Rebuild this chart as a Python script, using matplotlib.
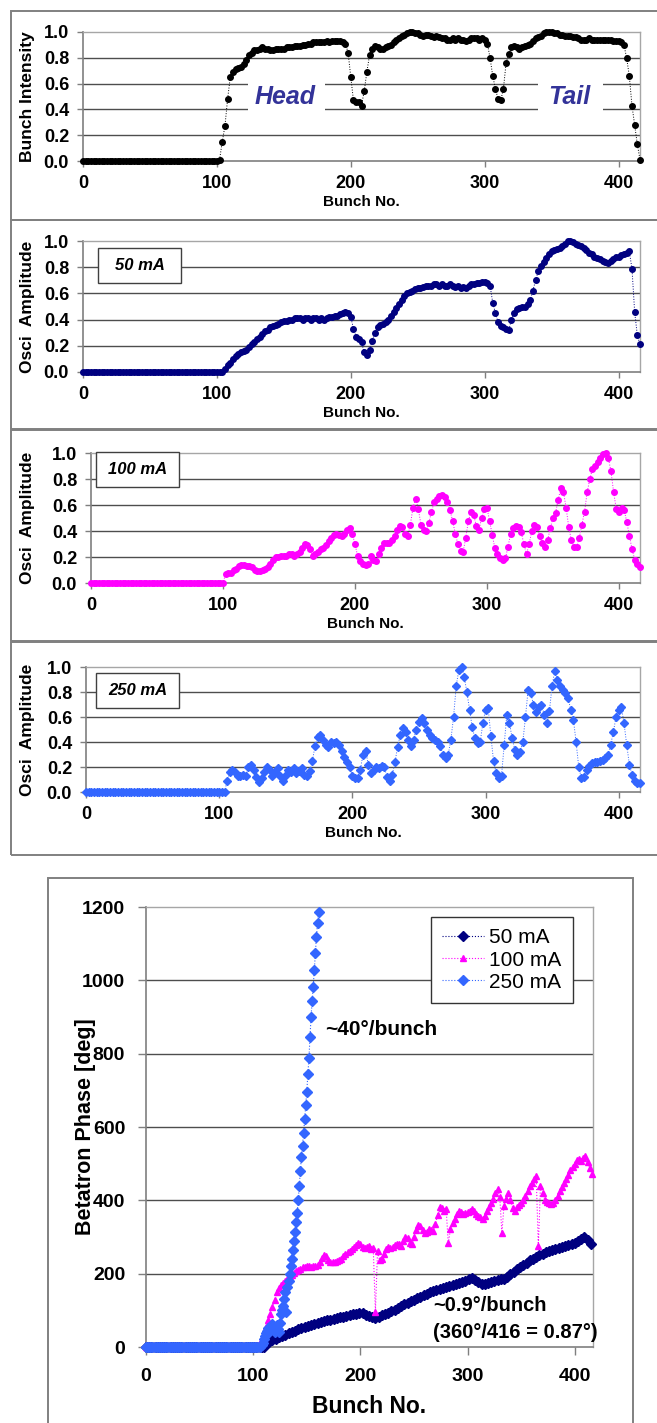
import matplotlib
matplotlib.use("Agg")
import matplotlib.pyplot as plt
from matplotlib.patches import Rectangle
import numpy as np

plt.rcParams['font.family'] = ['Liberation Sans', 'DejaVu Sans']

W, H = 657, 1423

# ---------------- data ----------------
# bunch intensity, every 2nd bunch from 102 (zeros before)
int_start = 102
intensity = [0.01, 0.15, 0.27, 0.48, 0.65, 0.69, 0.71, 0.72, 0.73, 0.75,
             0.78, 0.82, 0.84, 0.86, 0.86, 0.87, 0.88, 0.87, 0.87, 0.86,
             0.86, 0.87, 0.87, 0.87, 0.87, 0.88, 0.88, 0.88, 0.89, 0.89,
             0.89, 0.90, 0.90, 0.91, 0.91, 0.92, 0.92, 0.92, 0.92, 0.92,
             0.93, 0.92, 0.93, 0.93, 0.93, 0.93, 0.92, 0.91, 0.84, 0.65,
             0.47, 0.46, 0.46, 0.43, 0.54, 0.69, 0.82, 0.87, 0.89, 0.88,
             0.87, 0.87, 0.88, 0.89, 0.90, 0.92, 0.94, 0.95, 0.97, 0.98,
             0.99, 1.00, 1.00, 0.99, 0.99, 0.98, 0.97, 0.98, 0.98, 0.97,
             0.96, 0.97, 0.96, 0.95, 0.95, 0.94, 0.94, 0.95, 0.94, 0.95,
             0.94, 0.94, 0.93, 0.94, 0.95, 0.95, 0.95, 0.94, 0.95, 0.94,
             0.91, 0.80, 0.66, 0.56, 0.48, 0.47, 0.56, 0.76, 0.83, 0.88,
             0.89, 0.88, 0.87, 0.88, 0.89, 0.90, 0.91, 0.93, 0.95, 0.96,
             0.97, 0.99, 1.00, 1.00, 1.00, 0.99, 0.99, 0.98, 0.98, 0.97,
             0.97, 0.97, 0.96, 0.96, 0.95, 0.94, 0.94, 0.94, 0.95, 0.94,
             0.94, 0.94, 0.94, 0.94, 0.94, 0.94, 0.94, 0.93, 0.93, 0.93,
             0.92, 0.90, 0.80, 0.66, 0.43, 0.28, 0.13, 0.01]

# oscillation amplitude, every 2nd bunch
amp50_start = 106
amp50 = [0.02, 0.05, 0.07, 0.10, 0.12, 0.14, 0.15, 0.16, 0.17, 0.19,
         0.21, 0.23, 0.25, 0.27, 0.29, 0.31, 0.32, 0.34, 0.35, 0.36,
         0.37, 0.38, 0.39, 0.39, 0.40, 0.40, 0.41, 0.41, 0.41, 0.40,
         0.41, 0.41, 0.40, 0.41, 0.41, 0.40, 0.41, 0.40, 0.41, 0.42,
         0.42, 0.43, 0.43, 0.44, 0.45, 0.46, 0.45, 0.42, 0.33, 0.27,
         0.25, 0.23, 0.15, 0.13, 0.17, 0.24, 0.30, 0.34, 0.36, 0.37,
         0.38, 0.40, 0.43, 0.46, 0.49, 0.52, 0.55, 0.58, 0.60, 0.61,
         0.62, 0.63, 0.64, 0.64, 0.65, 0.66, 0.66, 0.66, 0.67, 0.67,
         0.66, 0.67, 0.66, 0.66, 0.67, 0.66, 0.65, 0.66, 0.64, 0.65,
         0.64, 0.66, 0.67, 0.67, 0.68, 0.68, 0.69, 0.69, 0.68, 0.66,
         0.53, 0.45, 0.38, 0.35, 0.34, 0.33, 0.32, 0.40, 0.45, 0.48,
         0.49, 0.50, 0.50, 0.52, 0.55, 0.62, 0.70, 0.77, 0.81, 0.84,
         0.87, 0.90, 0.92, 0.93, 0.94, 0.95, 0.96, 0.98, 1.00, 1.00,
         0.99, 0.98, 0.97, 0.96, 0.95, 0.93, 0.91, 0.90, 0.88, 0.87,
         0.86, 0.85, 0.84, 0.83, 0.85, 0.86, 0.88, 0.88, 0.89, 0.90,
         0.91, 0.92, 0.79, 0.46, 0.28, 0.21]

amp100_start = 102
amp100 = [0.07, 0.08, 0.08, 0.10, 0.11, 0.13, 0.14, 0.14, 0.13, 0.13,
          0.12, 0.10, 0.09, 0.09, 0.10, 0.11, 0.12, 0.15, 0.18, 0.20,
          0.20, 0.21, 0.21, 0.21, 0.22, 0.22, 0.21, 0.22, 0.24, 0.27,
          0.30, 0.29, 0.26, 0.21, 0.22, 0.24, 0.26, 0.27, 0.29, 0.32,
          0.35, 0.37, 0.38, 0.37, 0.36, 0.38, 0.41, 0.42, 0.38, 0.30,
          0.21, 0.17, 0.15, 0.14, 0.15, 0.21, 0.18, 0.17, 0.22, 0.27,
          0.31, 0.31, 0.31, 0.33, 0.36, 0.41, 0.44, 0.43, 0.38, 0.36,
          0.45, 0.58, 0.65, 0.57, 0.45, 0.41, 0.40, 0.46, 0.55, 0.62,
          0.65, 0.67, 0.68, 0.66, 0.62, 0.56, 0.48, 0.38, 0.30, 0.25,
          0.24, 0.35, 0.48, 0.55, 0.52, 0.44, 0.41, 0.50, 0.57, 0.58,
          0.48, 0.37, 0.27, 0.22, 0.19, 0.18, 0.19, 0.28, 0.38, 0.42,
          0.44, 0.43, 0.39, 0.30, 0.22, 0.30, 0.40, 0.45, 0.43, 0.36,
          0.31, 0.28, 0.33, 0.42, 0.50, 0.54, 0.64, 0.73, 0.70, 0.58,
          0.43, 0.33, 0.28, 0.28, 0.35, 0.45, 0.55, 0.70, 0.80, 0.88,
          0.90, 0.93, 0.96, 0.99, 1.00, 0.96, 0.86, 0.70, 0.57, 0.55,
          0.58, 0.56, 0.47, 0.36, 0.26, 0.18, 0.15, 0.12]

amp250_start = 106
amp250 = [0.09, 0.16, 0.18, 0.16, 0.13, 0.13, 0.14, 0.13, 0.20, 0.22,
          0.18, 0.12, 0.08, 0.11, 0.16, 0.20, 0.18, 0.13, 0.16, 0.19,
          0.13, 0.09, 0.14, 0.18, 0.16, 0.19, 0.15, 0.17, 0.19, 0.14,
          0.13, 0.17, 0.25, 0.37, 0.44, 0.46, 0.42, 0.38, 0.36, 0.40,
          0.39, 0.40, 0.38, 0.33, 0.28, 0.24, 0.20, 0.13, 0.11, 0.11,
          0.18, 0.30, 0.33, 0.22, 0.15, 0.18, 0.20, 0.19, 0.21, 0.20,
          0.12, 0.09, 0.14, 0.24, 0.36, 0.46, 0.51, 0.48, 0.42, 0.37,
          0.42, 0.50, 0.56, 0.59, 0.55, 0.50, 0.46, 0.43, 0.42, 0.40,
          0.37, 0.30, 0.27, 0.30, 0.42, 0.60, 0.85, 0.98, 1.00, 0.92,
          0.80, 0.66, 0.52, 0.43, 0.39, 0.40, 0.55, 0.66, 0.67, 0.45,
          0.25, 0.15, 0.11, 0.13, 0.38, 0.62, 0.55, 0.43, 0.34, 0.30,
          0.32, 0.40, 0.60, 0.82, 0.79, 0.70, 0.64, 0.68, 0.70, 0.62,
          0.55, 0.65, 0.85, 0.97, 0.90, 0.85, 0.82, 0.79, 0.75, 0.66,
          0.58, 0.40, 0.20, 0.11, 0.12, 0.18, 0.21, 0.23, 0.24, 0.24,
          0.25, 0.26, 0.27, 0.30, 0.38, 0.48, 0.60, 0.66, 0.68, 0.55,
          0.38, 0.22, 0.14, 0.09, 0.07, 0.07]

# betatron phase [deg]
ph50_start, ph50_step = 112, 3
phase50 = [8, 14, 18, 22, 26, 30, 34, 38, 42, 45,
           48, 52, 55, 58, 60, 63, 65, 68, 70, 73,
           75, 77, 79, 81, 83, 85, 87, 89, 91, 94,
           93, 88, 84, 81, 80, 82, 86, 89, 93, 97,
           101, 106, 111, 116, 120, 125, 129, 133, 137, 141,
           145, 149, 152, 155, 158, 161, 164, 166, 169, 172,
           175, 178, 181, 185, 188, 183, 176, 173, 172, 174,
           177, 181, 183, 185, 186, 190, 198, 205, 212, 218,
           224, 230, 236, 241, 246, 250, 254, 258, 261, 264,
           267, 270, 272, 275, 278, 281, 285, 290, 295, 300,
           293, 280]

ph100_start, ph100_step = 104, 2
phase100 = [5, 12, 20, 35, 55, 75, 90, 110, 128, 150,
            160, 168, 174, 179, 185, 190, 196, 201, 206, 210,
            214, 217, 219, 220, 221, 219, 220, 222, 224, 232,
            242, 250, 248, 238, 232, 233, 232, 234, 236, 240,
            247, 253, 258, 262, 267, 272, 278, 283, 280, 274,
            270, 272, 275, 268, 270, 96, 262, 236, 240, 255,
            268, 272, 270, 274, 278, 282, 280, 276, 288, 300,
            298, 285, 282, 300, 318, 333, 330, 318, 312, 315,
            322, 318, 316, 335, 360, 382, 380, 372, 376, 283,
            321, 338, 350, 362, 372, 368, 362, 366, 368, 372,
            376, 370, 362, 358, 354, 348, 356, 372, 381, 392,
            405, 420, 430, 410, 312, 385, 405, 420, 402, 380,
            372, 382, 388, 392, 400, 412, 425, 438, 448, 458,
            466, 276, 440, 420, 402, 395, 392, 390, 392, 402,
            412, 425, 436, 446, 458, 470, 482, 492, 500, 510,
            512, 508, 515, 520, 505, 488, 472]

ph250_start, ph250_step = 108, 1
phase250 = [5, 12, 22, 30, 38, 45, 52, 48, 44, 55,
            62, 50, 42, 55, 60, 48, 40, 65, 90, 100,
            112, 130, 150, 96, 165, 180, 200, 220, 240, 265,
            290, 315, 340, 365, 400, 440, 480, 519, 549, 583,
            621, 660, 696, 744, 787, 846, 901, 944, 983, 1028,
            1074, 1119, 1155, 1187]

NAVY = '#000080'
MAGENTA = '#FF00FF'
BLUE = '#3366FF'
HEADTAIL = '#333399'


def series(start, vals, step=2, zstep=2):
    # zero samples before the first non-zero bunch, then the read values
    xz = np.arange(0, start, zstep)
    x = np.concatenate([xz, start + step * np.arange(len(vals))])
    y = np.concatenate([np.zeros(len(xz)), np.asarray(vals, float)])
    return x, y


def ax_at(x0, y0, x1, y1):
    return fig.add_axes([x0 / W, 1 - y1 / H, (x1 - x0) / W, (y1 - y0) / H])


def frame(x0, y0, x1, y1, ec='#808080', lw=1.4):
    fig.add_artist(Rectangle((x0 / W, 1 - y1 / H), (x1 - x0) / W, (y1 - y0) / H,
                             transform=fig.transFigure, fill=False, ec=ec, lw=lw))


def style(ax, box, ylabel, ymax, yticks, ylabs, fs, xfs, yfs, ylab_x,
          xpad, ypad, xlabpad, tlen, xmax=416):
    x0, y0, x1, y1 = box
    ax.set_xlim(0, xmax)
    ax.set_ylim(0, ymax)
    ax.set_xticks([0, 100, 200, 300, 400])
    ax.set_yticks(yticks)
    ax.set_yticklabels(ylabs)
    for y in yticks[1:-1]:
        ax.axhline(y, color='#4d4d4d', lw=1.0, zorder=1)
    for s in ['top', 'right']:
        ax.spines[s].set_color('#a6a6a6')
        ax.spines[s].set_linewidth(1.0)
    for s in ['left', 'bottom']:
        ax.spines[s].set_color('#7f7f7f')
        ax.spines[s].set_linewidth(1.2)
    ax.tick_params(direction='out', length=tlen, width=1, color='#7f7f7f',
                   labelsize=fs)
    ax.tick_params(axis='x', pad=xpad)
    ax.tick_params(axis='y', pad=ypad)
    for lab in ax.get_xticklabels() + ax.get_yticklabels():
        lab.set_fontweight('bold')
    ax.set_xlabel('Bunch No.', fontsize=xfs, fontweight='bold', labelpad=xlabpad)
    ax.set_ylabel(ylabel, fontsize=yfs, fontweight='bold')
    # ylab_x is the right edge of the rotated label, in figure pixels
    ax.yaxis.set_label_coords((ylab_x - x0) / (x1 - x0), 0.5)


fig = plt.figure(figsize=(W / 100, H / 100), dpi=100)

amp_ticks = [0, 0.2, 0.4, 0.6, 0.8, 1.0]
amp_labs = ['0.0', '0.2', '0.4', '0.6', '0.8', '1.0']

# ---- panel 1: bunch intensity ----
frame(11, 11, 680, 220)
box1 = (83, 32, 640, 161)
ax1 = ax_at(*box1)
x, y = series(int_start, intensity)
ax1.plot(x, y, ':', color='black', lw=0.7, marker='o', ms=4.0, zorder=3, clip_on=False)
style(ax1, box1, 'Bunch Intensity', 1.0, amp_ticks, amp_labs, 13, 11, 12.5, 35,
      6, 6, 2, 4)
ax1.add_patch(Rectangle((123, 0.3), 58, 0.4, fc='white', ec='none', zorder=1.5))
ax1.add_patch(Rectangle((340, 0.3), 48, 0.4, fc='white', ec='none', zorder=1.5))
ax1.text(151, 0.5, 'Head', color=HEADTAIL, fontsize=18, fontweight='bold',
         style='italic', ha='center', va='center', zorder=4)
ax1.text(363, 0.5, 'Tail', color=HEADTAIL, fontsize=18, fontweight='bold',
         style='italic', ha='center', va='center', zorder=4)

# ---- panels 2-4: oscillation amplitude ----
amp_panels = [
    ((220, 429), (83, 241, 640, 372), (98, 248, 181, 283),
     amp50_start, amp50, NAVY, 'o', '50 mA'),
    ((430, 641), (91, 453, 640, 583), (96, 452, 179, 487),
     amp100_start, amp100, MAGENTA, 'o', '100 mA'),
    ((642, 855), (86, 667, 640, 792), (96, 673, 179, 708),
     amp250_start, amp250, BLUE, 'D', '250 mA'),
]
for (fy0, fy1), box, lbox, start, vals, col, mk, lab in amp_panels:
    frame(11, fy0, 680, fy1)
    ax = ax_at(*box)
    x, y = series(start, vals)
    ax.plot(x, y, ':', color=col, lw=0.7, marker=mk, ms=4.0, zorder=3, clip_on=False)
    style(ax, box, 'Osci  Amplitude', 1.0, amp_ticks, amp_labs, 13, 11, 12.5, 35,
          6, 6, 2, 4)
    # label box drawn in figure pixels
    fig.add_artist(Rectangle((lbox[0] / W, 1 - lbox[3] / H),
                             (lbox[2] - lbox[0]) / W, (lbox[3] - lbox[1]) / H,
                             transform=fig.transFigure, fc='white', ec='#404040',
                             lw=1.0, zorder=5))
    fig.text((lbox[0] + lbox[2]) / 2 / W, 1 - (lbox[1] + lbox[3]) / 2 / H, lab,
             fontsize=12, fontweight='bold', style='italic', ha='center',
             va='center', zorder=6)

# ---- panel 5: betatron phase ----
frame(48, 878, 633, 1440)
box5 = (146, 907, 593, 1347)
ax5 = ax_at(*box5)
x, y = series(ph50_start, phase50, ph50_step)
ax5.plot(x, y, ':', color=NAVY, lw=0.8, marker='D', ms=5.0, zorder=3,
         clip_on=False, label='50 mA')
x, y = series(ph100_start, phase100, ph100_step)
ax5.plot(x, y, ':', color=MAGENTA, lw=0.8, marker='^', ms=4.8, zorder=4,
         clip_on=False, label='100 mA')
x, y = series(ph250_start, phase250, ph250_step)
ax5.plot(x, y, ':', color=BLUE, lw=0.8, marker='D', ms=4.6, zorder=5,
         clip_on=False, label='250 mA')
ph_ticks = [0, 200, 400, 600, 800, 1000, 1200]
style(ax5, box5, 'Betatron Phase [deg]', 1200, ph_ticks, [str(t) for t in ph_ticks],
      14, 16.5, 15.5, 96, 9, 9, 7, 6, xmax=417)

leg = ax5.legend(loc='upper left', bbox_to_anchor=(431 / W, 1 - 917 / H),
                 bbox_transform=fig.transFigure, borderaxespad=0, fontsize=15,
                 frameon=True, fancybox=False, edgecolor='#333333',
                 handlelength=2.0, handletextpad=0.25, borderpad=0.55,
                 labelspacing=0.15, framealpha=1)
leg.get_frame().set_linewidth(1.0)

ax5.text(167, 865, '~40°/bunch', fontsize=15, fontweight='bold',
         ha='left', va='center', zorder=6)
ax5.text(268, 112, '~0.9°/bunch', fontsize=14.5, fontweight='bold',
         ha='left', va='center', zorder=6)
ax5.text(268, 40, '(360°/416 = 0.87°)', fontsize=14.5, fontweight='bold',
         ha='left', va='center', zorder=6)

fig.savefig('out.png', dpi=100)
